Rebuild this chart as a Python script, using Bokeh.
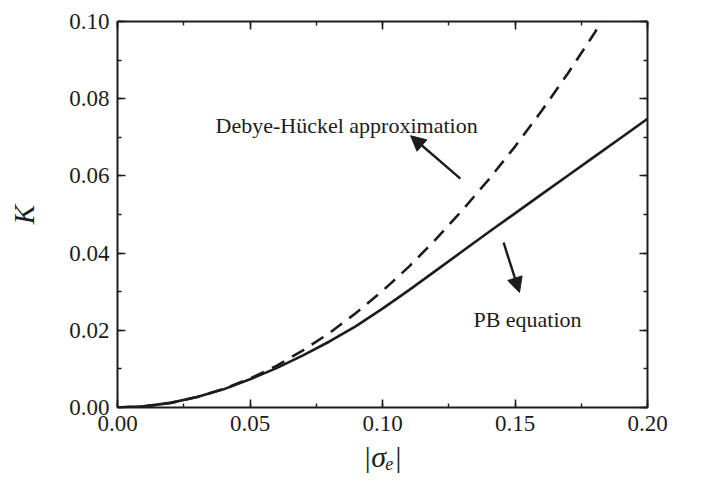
from bokeh.plotting import figure
from bokeh.models import (Range1d, LinearAxis, SingleIntervalTicker, Label, Arrow,
                          NormalHead, CustomJSTickFormatter, NumeralTickFormatter)
from bokeh.embed import file_html
from bokeh.resources import INLINE

# ---- data ----
sigma_pb = [0.00, 0.01, 0.02, 0.03, 0.04, 0.05, 0.06, 0.07, 0.08, 0.09, 0.10,
            0.11, 0.12, 0.13, 0.14, 0.15, 0.16, 0.17, 0.18, 0.19, 0.20]
k_pb = [0.0, 0.0003, 0.0012, 0.0027, 0.0047, 0.0073, 0.0102, 0.0135, 0.0171,
        0.0211, 0.0256, 0.0304, 0.0354, 0.0404, 0.0454, 0.0503, 0.0552, 0.0601,
        0.0650, 0.0699, 0.0748]

sigma_dh = [0.00, 0.01, 0.02, 0.03, 0.04, 0.05, 0.06, 0.07, 0.08, 0.09, 0.10,
            0.11, 0.12, 0.13, 0.14, 0.15, 0.16, 0.17, 0.18, 0.1826]
k_dh = [0.0, 0.0003, 0.0012, 0.0027, 0.0048, 0.0075, 0.0108, 0.0148, 0.0193,
        0.0245, 0.0302, 0.0365, 0.0435, 0.0510, 0.0590, 0.0676, 0.0768, 0.0866,
        0.0970, 0.1000]

x_range = (0.0, 0.2)
y_range = (0.0, 0.1)
x_label = "|σₑ|"
y_label = "K"

dh_text = "Debye-Hückel approximation"
dh_text_pos = (0.0370, 0.0730)
dh_arrow = (0.1294, 0.0593, 0.1106, 0.0704)  # tail x, tail y, tip x, tip y
pb_text = "PB equation"
pb_text_pos = (0.1343, 0.0228)
pb_arrow = (0.1457, 0.0427, 0.1517, 0.0298)

FONT = "Liberation Serif"
INK = "#1c1c1c"

p = figure(width=700, height=479, output_backend="svg", toolbar_location=None,
           x_range=Range1d(*x_range), y_range=Range1d(*y_range),
           x_axis_location=None, y_axis_location=None,
           min_border_left=117, min_border_right=53, min_border_top=21,
           min_border_bottom=72)
p.outline_line_color = None
p.xgrid.visible = False
p.ygrid.visible = False
p.background_fill_color = "white"
p.border_fill_color = "white"


def style_axis(ax, show_labels, standoff):
    ax.axis_line_width = 2
    ax.axis_line_color = INK
    ax.major_tick_line_color = INK
    ax.minor_tick_line_color = INK
    ax.major_tick_line_width = 1.6
    ax.minor_tick_line_width = 1.4
    ax.major_tick_in = 8
    ax.major_tick_out = 0
    ax.minor_tick_in = 4
    ax.minor_tick_out = 0
    ax.major_label_text_font = FONT
    ax.major_label_text_font_size = "23px"
    ax.major_label_text_color = INK
    ax.major_label_standoff = standoff
    ax.axis_label_text_font = FONT
    ax.axis_label_text_font_style = "italic"
    ax.axis_label_text_color = INK
    if show_labels:
        ax.formatter = NumeralTickFormatter(format="0.00")
    else:
        ax.formatter = CustomJSTickFormatter(code="return ''")


xb = LinearAxis(ticker=SingleIntervalTicker(interval=0.05, num_minor_ticks=2))
style_axis(xb, True, 8)
xb.axis_label = x_label
xb.axis_label_text_font_size = "30px"
xb.axis_label_standoff = 6
p.add_layout(xb, "below")

xt = LinearAxis(ticker=SingleIntervalTicker(interval=0.05, num_minor_ticks=2))
style_axis(xt, False, 0)
p.add_layout(xt, "above")

yl = LinearAxis(ticker=SingleIntervalTicker(interval=0.02, num_minor_ticks=2))
style_axis(yl, True, 8)
yl.axis_label = y_label
yl.axis_label_text_font_size = "29px"
yl.axis_label_standoff = 26
p.add_layout(yl, "left")

yr = LinearAxis(ticker=SingleIntervalTicker(interval=0.02, num_minor_ticks=2))
style_axis(yr, False, 0)
p.add_layout(yr, "right")

p.line(sigma_pb, k_pb, line_width=2.6, line_color=INK)
p.line(sigma_dh, k_dh, line_width=2.6, line_color=INK, line_dash="14 9")

for (tx, ty, hx, hy) in (dh_arrow, pb_arrow):
    p.add_layout(Arrow(x_start=tx, y_start=ty, x_end=hx, y_end=hy,
                       line_width=2.4, line_color=INK,
                       end=NormalHead(size=15, fill_color=INK, line_color=INK,
                                      line_width=1)))

p.add_layout(Label(x=dh_text_pos[0], y=dh_text_pos[1], text=dh_text,
                   text_font=FONT, text_font_size="22px", text_color=INK,
                   text_baseline="alphabetic", text_align="left"))
p.add_layout(Label(x=pb_text_pos[0], y=pb_text_pos[1], text=pb_text,
                   text_font=FONT, text_font_size="22px", text_color=INK,
                   text_baseline="alphabetic", text_align="left"))

open("out.html", "w").write(file_html(p, INLINE))
